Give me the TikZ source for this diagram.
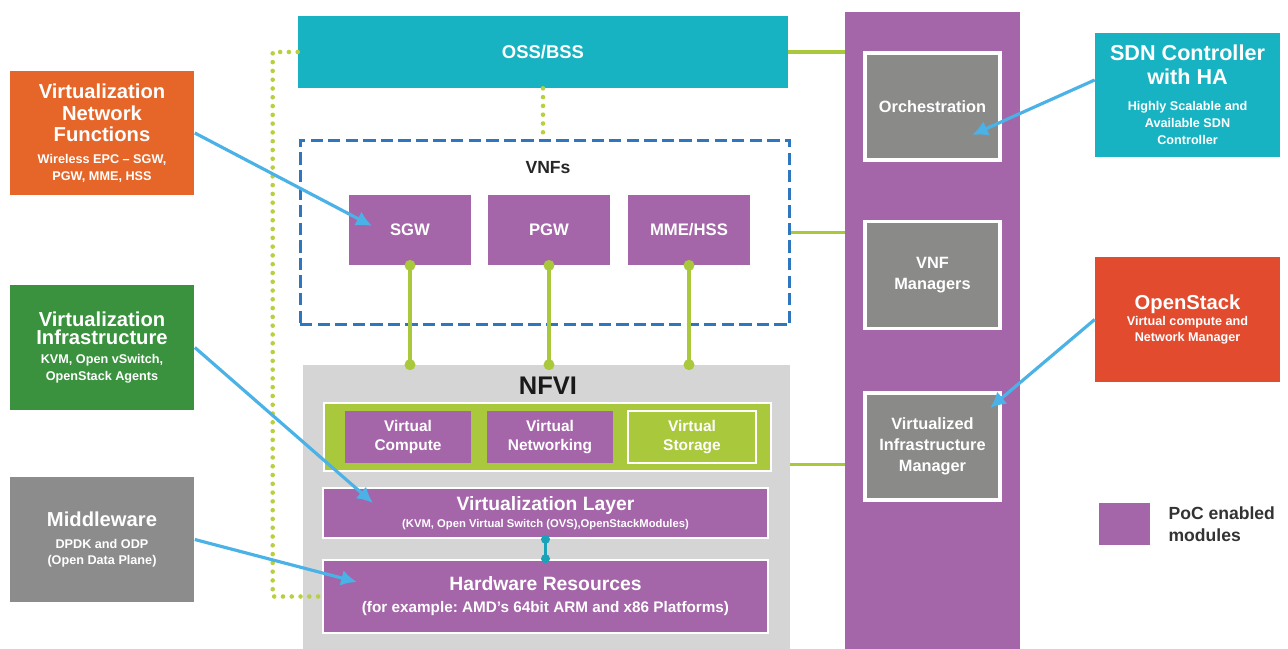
\documentclass[tikz,border=0pt]{standalone}
\usepackage{fontspec}
\setmainfont{Liberation Sans}
\usepackage{xcolor}
\usetikzlibrary{positioning, arrows.meta}

\definecolor{vnforange}{HTML}{E6662A}
\definecolor{infragreen}{HTML}{3A923E}
\definecolor{midgray}{HTML}{8C8C8C}
\definecolor{osscyan}{HTML}{17B3C2}
\definecolor{stackred}{HTML}{E24B2E}
\definecolor{pocpurple}{HTML}{A465A9}
\definecolor{limegreen}{HTML}{A9C83C}
\definecolor{nfvigray}{HTML}{D5D5D5}
\definecolor{managray}{HTML}{8A8A89}
\definecolor{dashblue}{HTML}{2E77BE}
\definecolor{arrowblue}{HTML}{4AB2E6}
\definecolor{dotlime}{HTML}{BACF3D}
\definecolor{linkteal}{HTML}{1AA3B8}

\newcommand{\boxtitle}{\fontsize{11.5}{12.5}\selectfont}
\newcommand{\boxsub}{\fontsize{7.2}{9}\selectfont}
\frenchspacing

\begin{document}
\begin{tikzpicture}[x=0.02cm, y=-0.02cm, font=\bfseries,
  sidebox/.style={inner sep=0pt, align=center, text=white, minimum width=3.7cm,
        minimum height=2.5cm, font=\bfseries\boxtitle},
  poc/.style={fill=pocpurple, inner sep=0pt, align=center, text=white},
  manobox/.style={fill=managray, draw=white, line width=1.8pt, inner sep=0pt, align=center,
        text=white, minimum width=2.7cm, minimum height=2.14cm,
        font=\bfseries\fontsize{9.3}{12}\selectfont},
  greenlink/.style={draw=limegreen, line width=1.8pt},
  dotlink/.style={draw=dotlime, line width=2.6pt, line cap=round, dash pattern=on 0pt off 5pt},
  callout/.style={draw=arrowblue, line width=1.8pt, -{Latex[length=9pt,width=9pt]}}]

  \path[use as bounding box, fill=white] (0,0) rectangle (1288,649);

  \node[sidebox, fill=vnforange] (vnf) at (102,133) {
    Virtualization\\Network\\Functions\\
    \boxsub Wireless EPC -- SGW,\\[-3pt] \boxsub PGW, MME, HSS};
  \node[sidebox, fill=infragreen] (vi) at (102,347.5) {
    Virtualization\\[-2.5pt] Infrastructure\\[-1.5pt]
    \boxsub KVM, Open vSwitch,\\[-3pt] \boxsub OpenStack Agents};
  \node[sidebox, fill=midgray] (mw) at (102,539.5) {
    Middleware\\
    \boxsub DPDK and ODP\\[-3pt] \boxsub (Open Data Plane)};

  \node[fill=osscyan, text=white, inner sep=0pt, minimum width=9.8cm, minimum height=1.44cm,
        font=\bfseries\fontsize{10.5}{12}\selectfont] (oss) at (543,52) {OSS/BSS};

  \node[draw=dashblue, line width=1.7pt, dash pattern=on 7pt off 3pt, inner sep=0pt,
        minimum width=9.8cm, minimum height=3.7cm] (vnfs) at (545,232.5) {};
  \node[text=black!85, font=\bfseries\fontsize{10}{12}\selectfont] (vnflbl) at (548,168) {VNFs};
  \node[poc, minimum width=2.44cm, minimum height=1.4cm,
        font=\bfseries\fontsize{9.5}{11}\selectfont] (sgw) at (410,230) {SGW};
  \node[poc, minimum width=2.44cm, minimum height=1.4cm,
        font=\bfseries\fontsize{9.5}{11}\selectfont] (pgw) at (549,230) {PGW};
  \node[poc, minimum width=2.44cm, minimum height=1.4cm,
        font=\bfseries\fontsize{9.5}{11}\selectfont] (mme) at (689,230) {MME/HSS};

  \node[fill=nfvigray, inner sep=0pt, minimum width=9.74cm, minimum height=5.68cm] (nfvi) at (546.5,507) {};
  \node[text=black!90, font=\bfseries\fontsize{14.5}{16}\selectfont] (nfvilbl) at (548,386) {NFVI};
  \node[fill=limegreen, draw=white, line width=1.5pt, inner sep=0pt,
        minimum width=8.94cm, minimum height=1.36cm] (band) at (547.5,437) {};
  \node[poc, minimum width=2.52cm, minimum height=1.04cm,
        font=\bfseries\fontsize{8.8}{10.4}\selectfont] (vc) at (408,437) {Virtual\\Compute};
  \node[poc, minimum width=2.52cm, minimum height=1.04cm,
        font=\bfseries\fontsize{8.8}{10.4}\selectfont] (vn) at (550,437) {Virtual\\Networking};
  \node[fill=limegreen, draw=white, line width=1.5pt, inner sep=0pt, align=center, text=white,
        minimum width=2.56cm, minimum height=1.04cm,
        font=\bfseries\fontsize{8.8}{10.4}\selectfont] (vs) at (692,437) {Virtual\\Storage};
  \node[poc, draw=white, line width=1.5pt, minimum width=8.9cm, minimum height=1.0cm,
        font=\bfseries\fontsize{11}{12}\selectfont] (vl) at (545.5,513) {
    Virtualization Layer\\[-2.5pt]
    \fontsize{6.4}{7}\selectfont (KVM, Open Virtual Switch (OVS),OpenStackModules)};
  \node[poc, draw=white, line width=1.5pt, minimum width=8.9cm, minimum height=1.46cm,
        font=\bfseries\fontsize{11}{12}\selectfont] (hw) at (545.5,596.5) {
    Hardware Resources\\[0.5pt]
    \fontsize{8.7}{10}\selectfont (for example: AMD's 64bit ARM and x86 Platforms)};

  \node[fill=pocpurple, inner sep=0pt, minimum width=3.5cm, minimum height=12.74cm] (mano) at (932.5,330.5) {};
  \node[manobox] (orch) at (932.5,106.5) {Orchestration};
  \node[manobox] (vnfm) at (932.5,275) {VNF\\Managers};
  \node[manobox] (vim) at (932.5,446.5) {Virtualized\\Infrastructure\\Manager};

  \node[sidebox, fill=osscyan, minimum height=2.48cm,
        font=\bfseries\fontsize{12.3}{13.5}\selectfont] (sdn) at (1187.5,95) {
    SDN Controller\\with HA\\[1.5pt]
    \boxsub Highly Scalable and\\[-3.8pt] \boxsub Available SDN\\[-3.8pt] \boxsub Controller};
  \node[sidebox, fill=stackred] (ostack) at (1187.5,319.5) {
    OpenStack\\[-3.5pt]
    \boxsub Virtual compute and\\[-3pt] \boxsub Network Manager};

  \node[fill=pocpurple, inner sep=0pt, minimum width=1.02cm, minimum height=0.84cm] (legend) at (1124.5,524) {};
  \node[right=0.24cm of legend, align=left, text=black!80,
        font=\bfseries\fontsize{10}{12.5}\selectfont] (legendtxt) {PoC enabled\\modules};

  \draw[greenlink] (oss.east) -- (oss.east -| mano.west);
  \draw[greenlink] (vnfs.east) -- (vnfs.east -| mano.west);
  \draw[greenlink] (nfvi.east |- vs.south) -- (vs.south -| mano.west);
  \foreach \v in {sgw,pgw,mme} {
    \draw[greenlink] (\v.south) -- (\v.south |- nfvi.north);
    \fill[limegreen] (\v.south) circle (0.11cm) (\v.south |- nfvi.north) circle (0.11cm);
  }
  \draw[draw=linkteal, line width=1.5pt] (vl.south) -- (hw.north);
  \fill[linkteal] (vl.south) circle (0.09cm) (hw.north) circle (0.09cm);

  \draw[dotlink] (oss.west) -- ++(-25,0) |- (hw.west);
  \draw[dotlink] (oss.south) -- (oss.south |- vnfs.north);

  \coordinate (sgwtip) at (372,226);
  \coordinate (vltip) at (373,503);
  \coordinate (hwtip) at (357,582);
  \coordinate (orchtip) at (972,135);
  \coordinate (vimtip) at (990,408);
  \draw[callout] (vnf.east) -- (sgwtip);
  \draw[callout] (vi.east) -- (vltip);
  \draw[callout] (mw.east) -- (hwtip);
  \draw[callout] ([yshift=0.3cm]sdn.west) -- (orchtip);
  \draw[callout] (ostack.west) -- (vimtip);
\end{tikzpicture}
\end{document}
